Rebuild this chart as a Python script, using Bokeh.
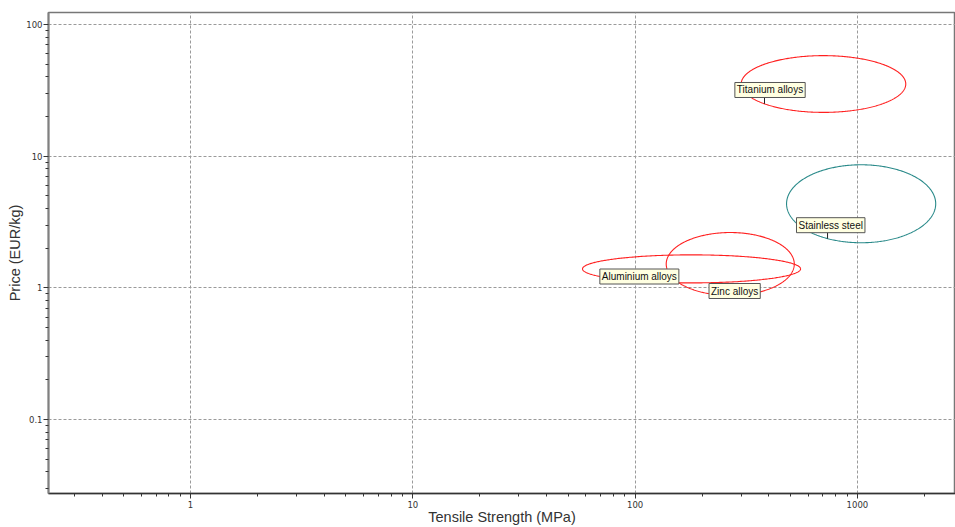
import numpy as np
from bokeh.plotting import figure
from bokeh.models import FixedTicker, CustomJSTickFormatter, ColumnDataSource, Range1d
from bokeh.core.properties import value
from bokeh.embed import file_html
from bokeh.resources import INLINE

# ---- data ----
materials = ["Titanium alloys", "Stainless steel", "Aluminium alloys", "Zinc alloys"]
strength_lo = [300, 480, 58, 138]      # MPa
strength_hi = [1650, 2250, 555, 520]   # MPa
price_lo = [21.5, 2.2, 1.09, 0.875]    # EUR/kg
price_hi = [58, 8.6, 1.78, 2.63]       # EUR/kg
colors = ["#ff2020", "#2a8a8a", "#ff2020", "#ff2020"]

label_x = [281, 532, 69.4, 215]
label_y = [31.8, 2.99, 1.219, 0.946]
leader_x = [382, 734, None, None]

x_ticks = [1, 10, 100, 1000]
y_ticks = [0.1, 1, 10, 100]
minor_mult = [2, 3, 4, 5, 6, 7, 8, 9]

FONT = "Liberation Sans"
TICK_FONT = "DejaVu Sans"

p = figure(width=955, height=527, x_axis_type="log", y_axis_type="log",
           x_range=Range1d(0.2297, 2762), y_range=Range1d(0.02742, 123.3),
           output_backend="svg", toolbar_location=None,
           min_border_left=48, min_border_right=0, min_border_top=12, min_border_bottom=34,
           x_axis_label="Tensile Strength (MPa)", y_axis_label="Price (EUR/kg)")
p.background_fill_color = "white"
p.border_fill_color = "white"
p.outline_line_color = "#777777"
p.outline_line_width = 1.5

xminor = [m * 10.0 ** k for k in range(-1, 4) for m in minor_mult]
yminor = [m * 10.0 ** k for k in range(-2, 3) for m in minor_mult]
p.xaxis.ticker = FixedTicker(ticks=x_ticks, minor_ticks=xminor)
p.yaxis.ticker = FixedTicker(ticks=y_ticks, minor_ticks=yminor)
p.xaxis.formatter = CustomJSTickFormatter(code="return tick.toString();")
p.yaxis.formatter = CustomJSTickFormatter(code="return tick.toString();")

for ax in (p.xaxis[0], p.yaxis[0]):
    ax.major_label_text_font = TICK_FONT
    ax.major_label_text_font_size = "8.5px"
    ax.major_label_text_color = "#333333"
    ax.axis_label_text_font = FONT
    ax.axis_label_text_font_size = "14.5px"
    ax.axis_label_text_font_style = "normal"
    ax.axis_label_text_color = "#333333"
    ax.major_tick_in = 0
    ax.major_tick_out = 5
    ax.minor_tick_in = 0
    ax.minor_tick_out = 3
    ax.major_tick_line_color = "#333333"
    ax.minor_tick_line_color = "#333333"

p.xaxis.axis_line_color = "#333333"
p.xaxis.axis_line_width = 1.5
p.xaxis.major_label_standoff = 2
p.xaxis.axis_label_standoff = -2
p.yaxis.axis_line_color = "#808080"
p.yaxis.axis_line_width = 2
p.yaxis.major_label_standoff = 1
p.yaxis.axis_label_standoff = 0

for g in (p.xgrid[0], p.ygrid[0]):
    g.grid_line_color = "#9a9a9a"
    g.grid_line_dash = "3 2"
    g.grid_line_width = 1

# ---- ellipses (drawn in log space) ----
t = np.linspace(0, 2 * np.pi, 400)
xs, ys, cxs, cys, axs, bys = [], [], [], [], [], []
for lo, hi, plo, phi in zip(strength_lo, strength_hi, price_lo, price_hi):
    cx = (np.log10(lo) + np.log10(hi)) / 2
    a = (np.log10(hi) - np.log10(lo)) / 2
    cy = (np.log10(plo) + np.log10(phi)) / 2
    b = (np.log10(phi) - np.log10(plo)) / 2
    cxs.append(cx); cys.append(cy); axs.append(a); bys.append(b)
    xs.append(list(10 ** (cx + a * np.cos(t))))
    ys.append(list(10 ** (cy + b * np.sin(t))))

p.multi_line(xs=xs, ys=ys, line_color=colors, line_width=1.1)

# ---- leader lines ----
lx0, ly0, ly1 = [], [], []
for i, lx in enumerate(leader_x):
    if lx is None:
        continue
    u = (np.log10(lx) - cxs[i]) / axs[i]
    ybot = 10 ** (cys[i] - bys[i] * np.sqrt(max(0.0, 1 - u * u)))
    lx0.append(lx); ly0.append(label_y[i]); ly1.append(ybot)
p.segment(x0=lx0, y0=ly0, x1=lx0, y1=ly1, line_color="#222222", line_width=1)

# ---- labels ----
src = ColumnDataSource(dict(x=label_x, y=label_y, text=materials))
p.text(x="x", y="y", text="text", source=src,
       text_font=value(FONT), text_font_size="10px", text_color="#111111",
       text_align="left", text_baseline="middle",
       background_fill_color="#ffffe1", border_line_color="#555555",
       border_line_width=1, padding=2)

open("out.html", "w").write(file_html(p, INLINE))
